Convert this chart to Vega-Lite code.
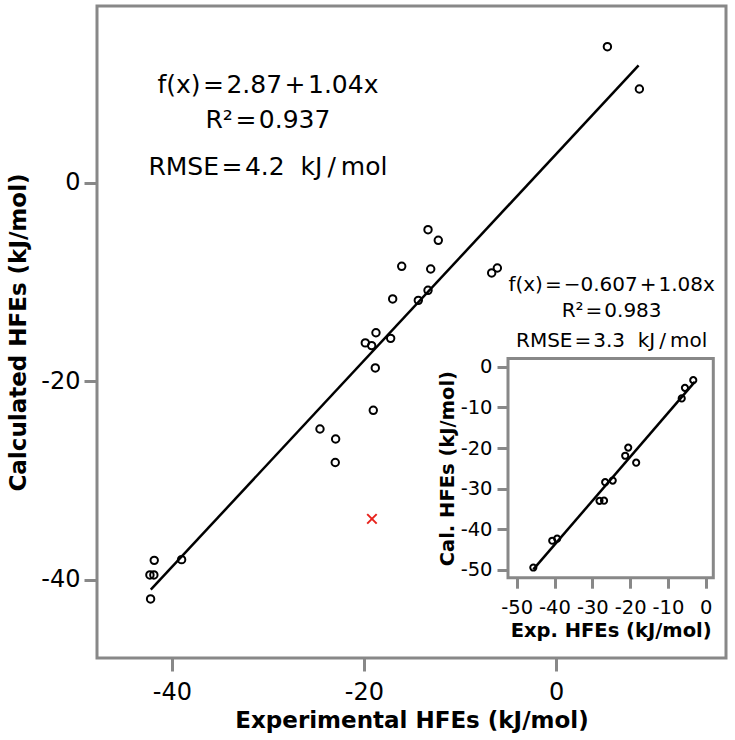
{
  "$schema": "https://vega.github.io/schema/vega-lite/v6.json",
  "width": 629,
  "height": 652,
  "autosize": {"type": "none"},
  "padding": {"left": 97, "top": 6, "right": 9, "bottom": 82},
  "config": {
    "font": "DejaVu Sans",
    "view": {"stroke": "#888888", "strokeWidth": 3},
    "axis": {"labelColor": "black", "titleColor": "black", "grid": false, "domain": false, "tickColor": "#888888", "tickWidth": 3, "labelFont": "DejaVu Sans", "titleFont": "DejaVu Sans", "labelExpr": "toString(datum.value)"}
  },
  "datasets": {
    "main": [
      {"exp": 5.35, "cal": 13.7}, {"exp": 8.68, "cal": 9.44}, {"exp": -13.33, "cal": -4.74}, {"exp": -12.26, "cal": -5.81},
      {"exp": -16.07, "cal": -8.43}, {"exp": -13.05, "cal": -8.7}, {"exp": -13.33, "cal": -10.85}, {"exp": -6.7, "cal": -9.1},
      {"exp": -6.11, "cal": -8.6}, {"exp": -17.01, "cal": -11.72}, {"exp": -14.34, "cal": -11.86}, {"exp": -18.75, "cal": -15.13},
      {"exp": -19.86, "cal": -16.15}, {"exp": -19.2, "cal": -16.42}, {"exp": -17.22, "cal": -15.69}, {"exp": -18.82, "cal": -18.67},
      {"exp": -19.03, "cal": -22.94}, {"exp": -24.58, "cal": -24.82}, {"exp": -22.95, "cal": -25.83}, {"exp": -22.99, "cal": -28.2},
      {"exp": -41.84, "cal": -38.06}, {"exp": -38.99, "cal": -37.99}, {"exp": -42.29, "cal": -39.53}, {"exp": -41.88, "cal": -39.53},
      {"exp": -42.22, "cal": -41.95}
    ],
    "outlier": [{"exp": -19.17, "cal": -33.88}],
    "mainfit": [{"exp": -42.2, "cal": -41.02}, {"exp": 8.6, "cal": 11.81}],
    "maintext": [
      {"exp": -30.0, "cal": 9.04, "label": "f(x)\u200a=\u200a2.87\u200a+\u200a1.04x"},
      {"exp": -30.0, "cal": 5.51, "label": "R²\u200a=\u200a0.937"},
      {"exp": -30.0, "cal": 0.81, "label": "RMSE\u200a=\u200a4.2\u00a0\u00a0kJ\u2009/\u2009mol"}
    ],
    "insetframe": [{"x1": -52.3, "x2": 2.0, "y1": -51.9, "y2": 2.0}],
    "inset": [
      {"exp": -45.6, "cal": -49.4}, {"exp": -40.6, "cal": -42.8}, {"exp": -39.3, "cal": -42.3}, {"exp": -28.1, "cal": -33.0},
      {"exp": -26.9, "cal": -32.95}, {"exp": -26.6, "cal": -28.4}, {"exp": -24.6, "cal": -28.0}, {"exp": -21.3, "cal": -21.9},
      {"exp": -20.5, "cal": -19.9}, {"exp": -18.4, "cal": -23.6}, {"exp": -6.35, "cal": -7.8}, {"exp": -5.5, "cal": -5.2},
      {"exp": -3.3, "cal": -3.3}
    ],
    "insetfit": [{"exp": -45.6, "cal": -49.86}, {"exp": -2.9, "cal": -3.74}],
    "insettext": [
      {"exp": -24.9, "cal": 18.7, "label": "f(x)\u200a=\u200a−0.607\u200a+\u200a1.08x"},
      {"exp": -24.9, "cal": 12.3, "label": "R²\u200a=\u200a0.983"},
      {"exp": -24.9, "cal": 4.92, "label": "RMSE\u200a=\u200a3.3\u00a0\u00a0kJ\u2009/\u2009mol"}
    ]
  },
  "layer": [
    {
      "layer": [
        {
          "data": {"name": "main"},
          "mark": {"type": "point", "shape": "circle", "filled": false, "color": "black", "opacity": 1, "strokeWidth": 2, "size": 55},
          "encoding": {
            "x": {"field": "exp", "type": "quantitative",
              "scale": {"domain": [-47.8, 17.7], "nice": false, "zero": false},
              "axis": {"values": [-40, -20, 0], "title": "Experimental HFEs (kJ/mol)", "labelFontSize": 24, "titleFontSize": 23, "titleFontWeight": "bold", "tickSize": 13, "labelPadding": 9, "titlePadding": 5}},
            "y": {"field": "cal", "type": "quantitative",
              "scale": {"domain": [-47.9, 17.8], "nice": false, "zero": false},
              "axis": {"values": [-40, -20, 0], "title": "Calculated HFEs (kJ/mol)", "labelFontSize": 24, "titleFontSize": 23, "titleFontWeight": "bold", "tickSize": 13, "labelPadding": 4, "titlePadding": 10}}
          }
        },
        {
          "data": {"name": "mainfit"},
          "mark": {"type": "line", "color": "black", "strokeWidth": 2.5},
          "encoding": {"x": {"field": "exp", "type": "quantitative"}, "y": {"field": "cal", "type": "quantitative"}}
        },
        {
          "data": {"name": "outlier"},
          "mark": {"type": "point", "shape": "M-1,-1L1,1M-1,1L1,-1", "filled": false, "color": "#e8221c", "opacity": 1, "strokeWidth": 2, "size": 90},
          "encoding": {"x": {"field": "exp", "type": "quantitative"}, "y": {"field": "cal", "type": "quantitative"}}
        },
        {
          "data": {"name": "maintext"},
          "mark": {"type": "text", "fontSize": 25, "align": "center", "baseline": "alphabetic", "color": "black"},
          "encoding": {"x": {"field": "exp", "type": "quantitative"}, "y": {"field": "cal", "type": "quantitative"}, "text": {"field": "label"}}
        }
      ]
    },
    {
      "layer": [
        {
          "data": {"name": "insetframe"},
          "mark": {"type": "rect", "fill": "white", "stroke": "#888888", "strokeWidth": 3},
          "encoding": {
            "x": {"field": "x1", "type": "quantitative",
              "scale": {"domain": [-52.3, 2.0], "range": [411.0, 616.3], "nice": false, "zero": false},
              "axis": {"orient": "bottom", "offset": -80.3, "values": [-50, -40, -30, -20, -10, 0], "title": "Exp. HFEs (kJ/mol)", "labelFontSize": 19.5, "titleFontSize": 19.5, "titleFontWeight": "bold", "tickSize": 10.5, "labelPadding": 10, "titlePadding": 5}},
            "x2": {"field": "x2"},
            "y": {"field": "y1", "type": "quantitative",
              "scale": {"domain": [-51.9, 2.0], "range": [571.7, 352.6], "nice": false, "zero": false},
              "axis": {"orient": "left", "offset": -412, "values": [-50, -40, -30, -20, -10, 0], "title": "Cal. HFEs (kJ/mol)", "labelFontSize": 19.5, "titleFontSize": 19.5, "titleFontWeight": "bold", "tickSize": 12, "labelPadding": 5, "titlePadding": 3}},
            "y2": {"field": "y2"}
          }
        },
        {
          "data": {"name": "inset"},
          "mark": {"type": "point", "shape": "circle", "filled": false, "color": "black", "opacity": 1, "strokeWidth": 2, "size": 38},
          "encoding": {"x": {"field": "exp", "type": "quantitative"}, "y": {"field": "cal", "type": "quantitative"}}
        },
        {
          "data": {"name": "insetfit"},
          "mark": {"type": "line", "color": "black", "strokeWidth": 2.5},
          "encoding": {"x": {"field": "exp", "type": "quantitative"}, "y": {"field": "cal", "type": "quantitative"}}
        },
        {
          "data": {"name": "insettext"},
          "mark": {"type": "text", "fontSize": 20, "align": "center", "baseline": "alphabetic", "color": "black"},
          "encoding": {"x": {"field": "exp", "type": "quantitative"}, "y": {"field": "cal", "type": "quantitative"}, "text": {"field": "label"}}
        }
      ]
    }
  ],
  "resolve": {"scale": {"x": "independent", "y": "independent"}, "axis": {"x": "independent", "y": "independent"}}
}
